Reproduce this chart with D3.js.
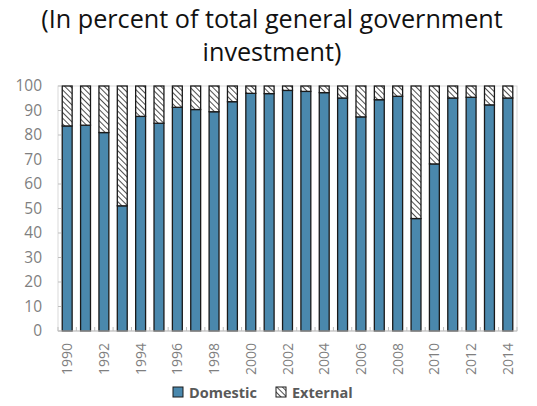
<!DOCTYPE html>
<html>
<head>
<meta charset="utf-8">
<script src="https://cdn.jsdelivr.net/npm/d3@7"></script>
<style>
  html, body { margin: 0; padding: 0; background: #fff; }
  svg { display: block; }
</style>
</head>
<body>
<svg id="chart" width="537" height="406"></svg>
<script>
// Share of general government investment by financing source, 1990-2014
const years = [1990, 1991, 1992, 1993, 1994, 1995, 1996, 1997, 1998, 1999,
               2000, 2001, 2002, 2003, 2004, 2005, 2006, 2007, 2008, 2009,
               2010, 2011, 2012, 2013, 2014];
const domestic = [83.7, 84.0, 81.0, 51.1, 87.6, 84.8, 91.3, 90.4, 89.5, 93.6,
                  97.0, 96.9, 98.2, 97.8, 97.3, 95.1, 87.4, 94.4, 95.8, 45.9,
                  68.2, 95.1, 95.4, 92.3, 95.1];
const external = domestic.map(d => +(100 - d).toFixed(1));
const yTicks = [0, 10, 20, 30, 40, 50, 60, 70, 80, 90, 100];
const titleLines = ["(In percent of total general government", "investment)"];
const seriesNames = ["Domestic", "External"];

const svg = d3.select("#chart");
const margin = { left: 58, right: 20, top: 86, bottom: 75 };
const W = 537, H = 406;
const innerW = W - margin.left - margin.right;
const innerH = H - margin.top - margin.bottom;

const blue = "#4a88ad";
const outline = "#1a1a1a";
const gray = "#7f7f7f";

// hatch fill for the external share
const defs = svg.append("defs");
const pat = defs.append("pattern")
  .attr("id", "hatch")
  .attr("patternUnits", "userSpaceOnUse")
  .attr("width", 4).attr("height", 4)
  .attr("patternTransform", "rotate(-45)");
pat.append("rect").attr("width", 4).attr("height", 4).attr("fill", "#fff");
pat.append("line").attr("x1", 0).attr("y1", 0).attr("x2", 0).attr("y2", 4)
  .attr("stroke", "#222").attr("stroke-width", 1.6);

// title
svg.append("g").selectAll("text").data(titleLines).join("text")
  .attr("x", 272).attr("y", (d, i) => 28 + i * 33)
  .attr("text-anchor", "middle")
  .attr("font-family", "'Open Sans', sans-serif")
  .attr("font-size", 25.2)
  .attr("fill", "#111")
  .text(d => d);

const g = svg.append("g").attr("transform", `translate(${margin.left},${margin.top})`);

const x = d3.scaleBand().domain(years).range([0, innerW]).paddingInner(0.46).paddingOuter(0.23);
const y = d3.scaleLinear().domain([0, 100]).range([innerH, 0]);

// plot frame
g.append("rect").attr("x", 0).attr("y", 0).attr("width", innerW).attr("height", innerH)
  .attr("fill", "none").attr("stroke", "#d9d9d9").attr("stroke-width", 1);

// y axis labels with short inner ticks
const yAxis = g.append("g").call(d3.axisLeft(y).tickValues(yTicks).tickSize(0).tickPadding(16));
yAxis.select(".domain").remove();
yAxis.selectAll("text")
  .attr("font-family", "'Open Sans', sans-serif")
  .attr("font-size", 15.5)
  .attr("fill", gray);
g.append("g").selectAll("line").data(yTicks).join("line")
  .attr("x1", 0).attr("x2", 3)
  .attr("y1", d => y(d)).attr("y2", d => y(d))
  .attr("stroke", "#bfbfbf");

// stacked data
const rows = years.map((yr, i) => ({ year: yr, Domestic: domestic[i], External: external[i] }));
const stack = d3.stack().keys(seriesNames)(rows);
const fills = { Domestic: blue, External: "url(#hatch)" };

g.append("g").selectAll("g").data(stack).join("g")
  .attr("fill", d => fills[d.key])
  .selectAll("rect").data(d => d).join("rect")
    .attr("x", d => x(d.data.year))
    .attr("width", x.bandwidth())
    .attr("y", d => y(d[1]))
    .attr("height", d => y(d[0]) - y(d[1]))
    .attr("stroke", outline)
    .attr("stroke-width", 1.3);

// x axis: baseline with small upward ticks between categories
const step = x.step();
const xAxisG = g.append("g").attr("transform", `translate(0,${innerH})`);
xAxisG.append("line").attr("x1", 0).attr("x2", innerW).attr("stroke", "#bfbfbf");
xAxisG.selectAll("line.tk").data(d3.range(years.length + 1)).join("line")
  .attr("class", "tk")
  .attr("x1", i => i * step).attr("x2", i => i * step)
  .attr("y1", 0).attr("y2", -4)
  .attr("stroke", "#bfbfbf");

const labelYears = years.filter(yr => yr % 2 === 0);
xAxisG.selectAll("text").data(labelYears).join("text")
  .attr("transform", d => `translate(${x(d) + x.bandwidth() / 2 + 5},12) rotate(-90)`)
  .attr("text-anchor", "end")
  .attr("font-family", "'Open Sans', sans-serif")
  .attr("font-size", 14)
  .attr("fill", gray)
  .text(d => d);

// legend
const legend = svg.append("g").attr("transform", "translate(173,387)");
const items = [
  { name: seriesNames[0], fill: blue, x: 0 },
  { name: seriesNames[1], fill: "url(#hatch)", x: 103 }
];
const li = legend.selectAll("g").data(items).join("g")
  .attr("transform", d => `translate(${d.x},0)`);
li.append("rect").attr("width", 10).attr("height", 10)
  .attr("fill", d => d.fill).attr("stroke", outline).attr("stroke-width", 1);
li.append("text").attr("x", 16).attr("y", 10.5)
  .attr("font-family", "'Open Sans', sans-serif")
  .attr("font-weight", "bold")
  .attr("font-size", 14.5)
  .attr("fill", "#595959")
  .text(d => d.name);
</script>
</body>
</html>
